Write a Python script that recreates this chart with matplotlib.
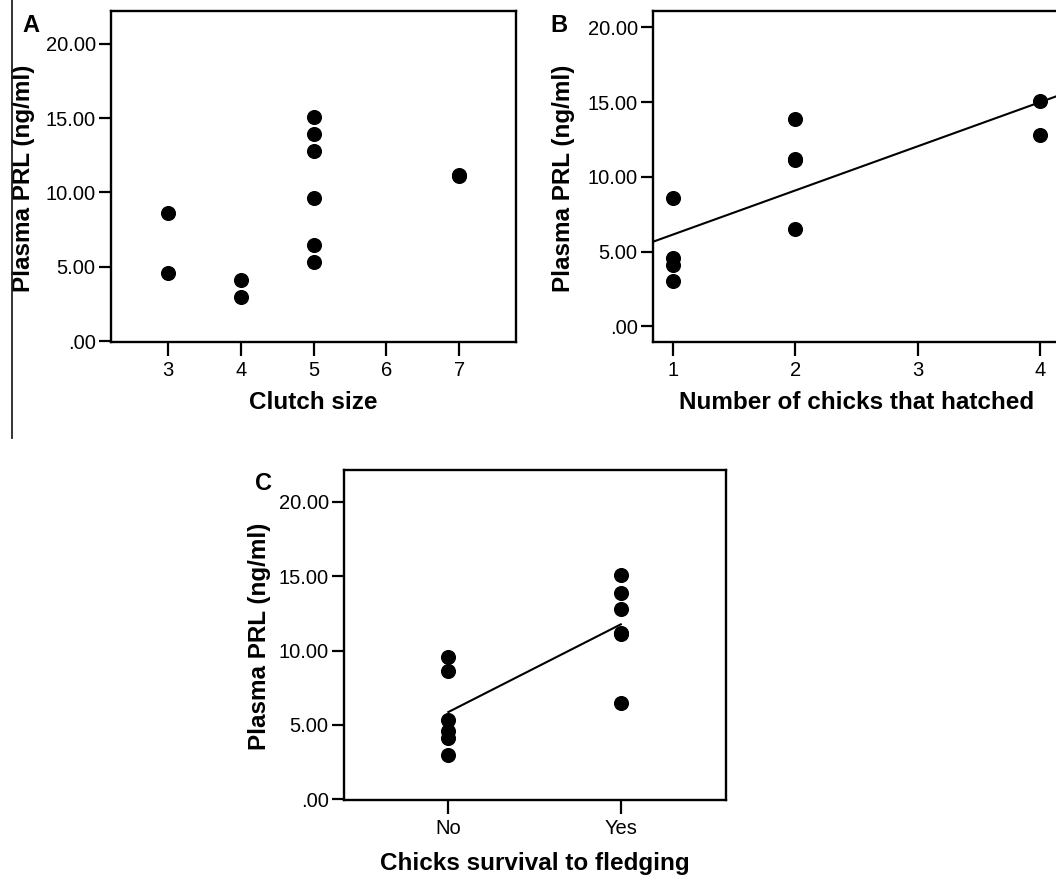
import numpy as np
import matplotlib
matplotlib.use("Agg")
import matplotlib.pyplot as plt
from matplotlib.ticker import FuncFormatter
from matplotlib.lines import Line2D

plt.rcParams['font.family'] = ['Liberation Sans', 'DejaVu Sans']

# --- Data ---
clutch_size = [3, 3, 4, 4, 5, 5, 5, 5, 5, 5, 7, 7]
prl_clutch = [8.6, 4.6, 4.1, 3.0, 15.1, 13.9, 12.8, 9.6, 6.5, 5.3, 11.1, 11.2]

hatched = [1, 1, 1, 1, 2, 2, 2, 2, 4, 4]
prl_hatched = [8.6, 4.6, 4.1, 3.0, 13.9, 11.1, 11.2, 6.5, 15.1, 12.8]

survival_labels = ['No', 'Yes']
survival = [0, 0, 0, 0, 0, 0, 1, 1, 1, 1, 1, 1]
prl_survival = [9.6, 8.6, 5.3, 4.6, 4.1, 3.0, 15.1, 13.9, 12.8, 11.2, 11.1, 6.5]

yticks = [0, 5, 10, 15, 20]
ylabel = 'Plasma PRL (ng/ml)'

W, H = 1056, 877
fig = plt.figure(figsize=(W / 100, H / 100), dpi=100)


def px_axes(left, top, right, bottom):
    return fig.add_axes([left / W, 1 - bottom / H, (right - left) / W, (bottom - top) / H])


def fmt(v, pos):
    s = f"{v:.2f}"
    return s[1:] if s.startswith('0') else s


def style(ax, xlab, ylab_x, xlab_y):
    for sp in ax.spines.values():
        sp.set_linewidth(1.7)
        sp.set_color('black')
    ax.set_yticks(yticks)
    ax.yaxis.set_major_formatter(FuncFormatter(fmt))
    ax.tick_params(axis='y', length=9, width=1.6, pad=2, labelsize=14.5)
    ax.tick_params(axis='x', length=10, width=1.6, pad=4, labelsize=14.5)
    ax.set_ylabel(ylabel, fontsize=17.5, fontweight='bold', va='center')
    ax.yaxis.set_label_coords(ylab_x, 0.495)
    ax.set_xlabel(xlab, fontsize=17.5, fontweight='bold', va='center')
    ax.xaxis.set_label_coords(0.5, xlab_y)


dot = dict(s=118, color='black', zorder=3, linewidths=0)

# --- A: clutch size ---
axA = px_axes(111, 11, 516, 342)
axA.scatter(clutch_size, prl_clutch, **dot)
axA.set_xlim(2.22, 7.78)
axA.set_ylim(-0.05, 22.2)
axA.set_xticks([3, 4, 5, 6, 7])
style(axA, 'Clutch size', -0.215, -0.184)

# --- B: chicks hatched ---
axB = px_axes(653, 11, 1060, 342)
axB.scatter(hatched, prl_hatched, **dot)
axB.set_xlim(0.84, 4.16)
axB.set_ylim(-1.05, 21.1)
axB.set_xticks([1, 2, 3, 4])
slope, icpt = np.polyfit(hatched, prl_hatched, 1)
xl = np.array(axB.get_xlim())
axB.plot(xl, slope * xl + icpt, color='black', lw=1.5, zorder=2)
style(axB, 'Number of chicks that hatched', -0.22, -0.184)

# --- C: survival to fledging ---
axC = px_axes(344, 470, 726, 800)
axC.scatter(survival, prl_survival, **dot)
axC.set_xlim(-0.605, 1.61)
axC.set_ylim(-0.05, 22.15)
axC.set_xticks([0, 1])
axC.set_xticklabels(survival_labels)
surv = np.array(survival)
prl = np.array(prl_survival)
means = [prl[surv == k].mean() for k in range(2)]
axC.plot([0, 1], means, color='black', lw=1.5, zorder=2)
style(axC, 'Chicks survival to fledging', -0.221, -0.191)

# panel letters
fig.text(31 / W, 1 - 26 / H, 'A', fontsize=17, fontweight='bold', ha='center', va='center')
fig.text(559 / W, 1 - 25 / H, 'B', fontsize=17, fontweight='bold', ha='center', va='center')
fig.text(263 / W, 1 - 484 / H, 'C', fontsize=17, fontweight='bold', ha='center', va='center')

# thin divider line at the left of panel A
fig.add_artist(Line2D([11.7 / W, 11.7 / W], [1, 1 - 438 / H], color='#222222', lw=1.3))

fig.savefig('out.png', dpi=100)
